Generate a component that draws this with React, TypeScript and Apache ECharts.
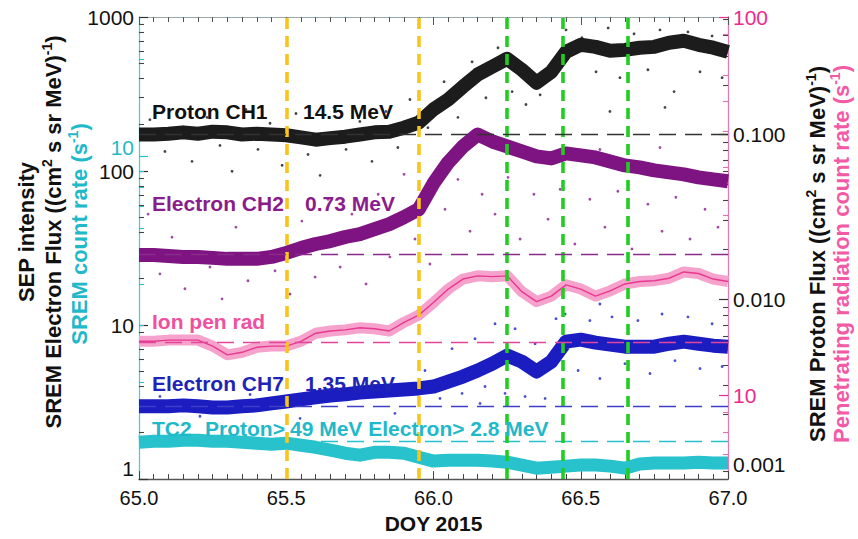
import React, { useEffect, useRef } from "react";
import * as echarts from "echarts";

// ---- time grid (day of year 2015) ----
const doy = [
  65.0, 65.05, 65.1, 65.15, 65.2, 65.25, 65.3, 65.35, 65.4, 65.45, 65.5, 65.55, 65.6, 65.65, 65.7, 65.75,
  65.8, 65.85, 65.9, 65.95, 66.0, 66.05, 66.1, 66.15, 66.2, 66.25, 66.3, 66.35, 66.4, 66.45, 66.5, 66.55,
  66.6, 66.65, 66.7, 66.75, 66.8, 66.85, 66.9, 66.95, 67.0,
];

// ---- series values ----
const protonCH1 = [
  0.1, 0.1, 0.101, 0.103, 0.101, 0.104, 0.103, 0.1, 0.101, 0.1, 0.099, 0.096, 0.093, 0.095, 0.097, 0.1,
  0.103, 0.104, 0.11, 0.118, 0.142, 0.163, 0.195, 0.231, 0.258, 0.288, 0.247, 0.206, 0.24, 0.317, 0.35,
  0.34, 0.322, 0.326, 0.336, 0.34, 0.36, 0.37, 0.35, 0.336, 0.317,
];
const electronCH2 = [
  28.5, 28.5, 28.1, 27.7, 27.7, 27.3, 26.9, 26.9, 26.9, 27.7, 29.4, 31.6, 33.6, 35.1, 37.3, 39.0, 42.0,
  45.2, 50.2, 56.5, 83.2, 113.8, 144.4, 172.6, 155.5, 144.4, 134.1, 124.4, 120.8, 130.1, 126.3, 122.6,
  115.5, 108.8, 105.6, 101.0, 98.0, 95.2, 91.0, 88.3, 85.8,
];
const ionPenRad = [
  13.9, 13.9, 14.0, 14.0, 14.0, 13.5, 12.8, 13.0, 13.4, 13.5, 13.5, 13.9, 14.6, 14.8, 14.9, 15.1, 15.0,
  14.8, 15.6, 16.3, 17.6, 19.1, 20.3, 20.7, 20.6, 20.7, 18.8, 17.7, 18.3, 19.6, 19.1, 18.3, 18.9, 19.7,
  20.0, 20.1, 20.4, 21.2, 21.0, 20.3, 20.0,
];
const electronCH7 = [
  2.97, 2.97, 2.97, 3.01, 2.97, 2.92, 2.92, 2.97, 3.01, 3.1, 3.19, 3.29, 3.39, 3.49, 3.55, 3.65, 3.71,
  3.76, 3.82, 3.88, 3.99, 4.3, 4.63, 5.07, 5.62, 6.34, 5.79, 4.99, 5.79, 7.8, 8.04, 7.69, 7.46, 7.24,
  7.24, 7.24, 7.57, 7.8, 7.57, 7.35, 7.24,
];
const tc2 = [
  1.301, 1.31, 1.31, 1.319, 1.319, 1.31, 1.31, 1.301, 1.292, 1.282, 1.292, 1.273, 1.255, 1.229, 1.203,
  1.186, 1.211, 1.211, 1.203, 1.169, 1.137, 1.144, 1.144, 1.144, 1.137, 1.128, 1.105, 1.081, 1.089,
  1.097, 1.105, 1.105, 1.097, 1.081, 1.113, 1.121, 1.121, 1.121, 1.128, 1.121, 1.121,
];

// ---- individual (scattered) samples ----
const protonDots = [
  [65.037, 0.123], [65.088, 0.0789], [65.132, 0.138], [65.18, 0.0687], [65.231, 0.127], [65.275, 0.0858],
  [65.316, 0.0598], [65.363, 0.142], [65.404, 0.0812], [65.445, 0.117], [65.486, 0.065], [65.533, 0.134],
  [65.574, 0.0757], [65.615, 0.0565], [65.662, 0.146], [65.703, 0.0812], [65.75, 0.12], [65.791, 0.0687],
  [65.839, 0.138], [65.879, 0.0834], [65.92, 0.163], [65.981, 0.11], [66.036, 0.209], [66.083, 0.127],
  [66.131, 0.276], [66.178, 0.167], [66.219, 0.336], [66.267, 0.182], [66.314, 0.152], [66.362, 0.174],
  [66.416, 0.276], [66.45, 0.431], [66.504, 0.386], [66.552, 0.24], [66.593, 0.443], [66.633, 0.221],
  [66.681, 0.408], [66.728, 0.247], [66.769, 0.431], [66.817, 0.182], [66.864, 0.419], [66.905, 0.24],
  [66.946, 0.396], [66.98, 0.221], [66.599, 0.138], [66.786, 0.146],
];
const electronCH2Dots = [
  [65.031, 52.5], [65.071, 21.5], [65.112, 37.2], [65.156, 17.2], [65.2, 56.5], [65.241, 23.8],
  [65.282, 14.8], [65.329, 43.2], [65.37, 19.4], [65.418, 60.9], [65.462, 22.5], [65.513, 15.9],
  [65.553, 47.3], [65.598, 20.5], [65.642, 65.6], [65.683, 23.8], [65.723, 52.5], [65.771, 18.5],
  [65.812, 70.7], [65.852, 27.7], [65.9, 95.2], [65.937, 36.2], [65.988, 24.9], [66.039, 56.5],
  [66.083, 88.3], [66.124, 40.7], [66.165, 70.7], [66.209, 52.5], [66.253, 91.0], [66.294, 36.2],
  [66.341, 70.7], [66.389, 48.7], [66.43, 76.1], [66.48, 33.6], [66.531, 65.6], [66.582, 43.2],
  [66.626, 73.9], [66.674, 31.2], [66.728, 60.9], [66.776, 40.7], [66.823, 67.6], [66.871, 36.2],
  [66.922, 56.5], [66.966, 43.2], [66.565, 138], [66.769, 142],
];
const electronCH7Dots = [
  [65.071, 3.44], [65.207, 2.56], [65.377, 3.54], [65.547, 2.48], [65.716, 3.76], [65.869, 2.67],
  [65.971, 5.07], [66.022, 3.34], [66.063, 7.03], [66.097, 3.6], [66.141, 8.16], [66.175, 3.99],
  [66.209, 10.2], [66.243, 3.6], [66.277, 9.47], [66.311, 3.44], [66.345, 7.57], [66.379, 3.34],
  [66.416, 11.0], [66.447, 11.8], [66.491, 5.07], [66.531, 10.7], [66.565, 4.5], [66.606, 11.3],
  [66.65, 5.62], [66.694, 10.7], [66.735, 4.85], [66.776, 11.8], [66.82, 5.88], [66.864, 11.3],
  [66.905, 5.22], [66.946, 10.2], [66.98, 5.38], [66.158, 3.1], [66.565, 13.7],
];

// ---- pre-event background levels ----
const protonBackground = 0.1;
const electronCH2Background = 28.9;
const ionPenBackground = 13.8;
const electronCH7Background = 2.97;
const tc2Background = 1.31;

// ---- event times ----
const yellowEvents = [65.5, 65.95];
const greenEvents = [66.245, 66.443, 66.661];

// ---- axis ticks ----
const leftTicks = [1, 10, 100, 1000];
const leftMinor = [2, 3, 4, 5, 6, 7, 8, 9, 20, 30, 40, 50, 60, 70, 80, 90, 200, 300, 400, 500, 600, 700, 800, 900];
const cyanTicks = [10];
const cyanMinor = [2, 3, 4, 5, 6, 7, 8, 9, 20];
const rightTicks = [0.001, 0.01, 0.1];
const rightMinor = [0.0009, 0.002, 0.003, 0.004, 0.005, 0.006, 0.007, 0.008, 0.009, 0.02, 0.03, 0.04, 0.05, 0.06, 0.07, 0.08, 0.09, 0.2, 0.3, 0.4, 0.5];
const pinkTicks = [10, 100];
const pinkMinor = [7, 8, 9, 20, 30, 40, 50, 60, 70, 80, 90];

const FONT = '"Liberation Sans", Arial, Helvetica, sans-serif';
const C_BLACK = "#111111";
const C_PURPLE = "#7e1482";
const C_PURPLE_TXT = "#8a1d8c";
const C_PINK_BAND = "#f5a3cd";
const C_PINK = "#e8388f";
const C_PINK_TXT = "#f0509e";
const C_PINK_AXIS = "#ee2a8c";
const C_BLUE = "#1b1dc0";
const C_BLUE_TXT = "#1f24b4";
const C_CYAN = "#27c2cb";
const C_CYAN_TXT = "#1fb9c9";
const C_YELLOW = "#f7c51c";
const C_GREEN = "#22cc22";

function majorAxis(o: any) {
  return {
    type: "log",
    position: o.position,
    min: o.min,
    max: o.max,
    axisLine: { show: !!o.line, lineStyle: { color: o.line, width: 1.3 } },
    axisTick: { show: true, inside: true, length: 9, customValues: o.ticks, lineStyle: { color: o.tickColor, width: 1.2 } },
    axisLabel: {
      show: true,
      customValues: o.ticks,
      margin: 5,
      fontSize: 21,
      fontFamily: FONT,
      color: o.labelColor,
      formatter: o.formatter,
      verticalAlignMinLabel: o.minAlign,
      ...(o.labelExtra || {}),
    },
    splitLine: { show: false },
    minorTick: { show: false },
  };
}
function minorAxis(o: any) {
  return {
    type: "log",
    position: o.position,
    min: o.min,
    max: o.max,
    axisLine: { show: false },
    axisTick: { show: true, inside: true, length: 5, customValues: o.ticks, lineStyle: { color: o.tickColor, width: 1.1 } },
    axisLabel: { show: false },
    splitLine: { show: false },
    minorTick: { show: false },
  };
}

const toXY = (vals: number[]) => doy.map((d, i) => [d, vals[i]]);

function band(name: string, vals: number[], yAxisIndex: number, color: string, width: number, level: number, levelColor: string, extraMark?: any[]) {
  return {
    type: "line",
    name,
    xAxisIndex: 0,
    yAxisIndex,
    data: toXY(vals),
    symbol: "none",
    showSymbol: false,
    silent: true,
    z: 3,
    lineStyle: { color, width, join: "round" },
    markLine: {
      silent: true,
      symbol: ["none", "none"],
      label: { show: false },
      lineStyle: { type: [17, 9], width: 1.4, color: levelColor },
      data: [{ yAxis: level }, ...(extraMark || [])],
      z: 5,
    },
  };
}

function dots(vals: number[][], yAxisIndex: number, color: string) {
  return {
    type: "scatter",
    xAxisIndex: 0,
    yAxisIndex,
    data: vals,
    symbolSize: 2.8,
    silent: true,
    z: 1,
    itemStyle: { color, opacity: 0.85 },
  };
}

function sup(color: string) {
  return {
    t: { fontSize: 22, fontWeight: "bold", fontFamily: FONT, fill: color, lineHeight: 24, verticalAlign: "bottom" },
    s: { fontSize: 14, fontWeight: "bold", fontFamily: FONT, fill: color, lineHeight: 24, verticalAlign: "top" },
  };
}

function label(x: number, y: number, text: string, color: string) {
  return {
    type: "text",
    x,
    y,
    z: 20,
    silent: true,
    style: {
      text,
      fill: color,
      fontSize: 21,
      fontWeight: "bold",
      fontFamily: FONT,
      align: "left",
      verticalAlign: "middle",
      textAlign: "left",
      textVerticalAlign: "middle",
    },
  };
}

function title(x: number, y: number, text: string, color: string) {
  return {
    type: "text",
    x,
    y,
    rotation: Math.PI / 2,
    z: 20,
    silent: true,
    style: {
      text,
      rich: sup(color),
      fill: color,
      fontSize: 22,
      fontWeight: "bold",
      fontFamily: FONT,
      align: "center",
      verticalAlign: "middle",
      textAlign: "center",
      textVerticalAlign: "middle",
    },
  };
}

const vLine = (x: number, color: string) => ({
  xAxis: x,
  lineStyle: { color, width: 3.6, type: [11, 7] },
});

const option: any = {
  animation: false,
  backgroundColor: "#ffffff",
  grid: { left: 139, top: 17, right: 130, bottom: 58, containLabel: false },
  xAxis: [
    {
      type: "value",
      position: "bottom",
      min: 65,
      max: 67,
      interval: 0.5,
      axisLine: { lineStyle: { color: "#555", width: 1.3 } },
      axisTick: { inside: true, length: 8, lineStyle: { color: "#444" } },
      minorTick: { show: true, splitNumber: 10, length: 5, lineStyle: { color: "#444" } },
      axisLabel: { fontSize: 20, fontFamily: FONT, color: C_BLACK, margin: 9, formatter: (v: number) => v.toFixed(1) },
      splitLine: { show: false },
      name: "DOY 2015",
      nameLocation: "middle",
      nameGap: 30,
      nameTextStyle: { fontSize: 21, fontWeight: "bold", fontFamily: FONT, color: C_BLACK },
    },
    {
      type: "value",
      position: "top",
      min: 65,
      max: 67,
      interval: 0.5,
      axisLine: { lineStyle: { color: "#9aa", width: 1.2 } },
      axisTick: { inside: true, length: 8, lineStyle: { color: "#555" } },
      minorTick: { show: true, splitNumber: 10, length: 5, lineStyle: { color: "#555" } },
      axisLabel: { show: false },
      splitLine: { show: false },
    },
  ],
  yAxis: [
    majorAxis({ position: "left", min: 1, max: 1000, line: "#5cc8d0", ticks: leftTicks, tickColor: "#333", labelColor: C_BLACK, minAlign: "bottom", formatter: (v: number) => String(Math.round(v)) }),
    minorAxis({ position: "left", min: 1, max: 1000, ticks: leftMinor, tickColor: "#444" }),
    majorAxis({ position: "left", min: 1, max: 27, line: null, ticks: cyanTicks, tickColor: C_CYAN, labelColor: C_CYAN_TXT, labelExtra: { verticalAlign: "bottom", lineHeight: 17 }, formatter: (v: number) => String(Math.round(v)) }),
    minorAxis({ position: "left", min: 1, max: 27, ticks: cyanMinor, tickColor: C_CYAN }),
    majorAxis({ position: "right", min: 0.000812, max: 0.516, line: "#e27ab8", ticks: rightTicks, tickColor: "#333", labelColor: C_BLACK, formatter: (v: number) => v.toFixed(3) }),
    minorAxis({ position: "right", min: 0.000812, max: 0.516, ticks: rightMinor, tickColor: "#444" }),
    majorAxis({ position: "right", min: 6.01, max: 100, line: null, ticks: pinkTicks, tickColor: C_PINK_AXIS, labelColor: C_PINK_AXIS, formatter: (v: number) => String(Math.round(v)) }),
    minorAxis({ position: "right", min: 6.01, max: 100, ticks: pinkMinor, tickColor: "#ea6fb0" }),
  ],
  series: [
    dots(protonDots, 4, "#222"),
    dots(electronCH2Dots, 0, "#8e2a92"),
    dots(electronCH7Dots, 0, "#2a2ccc"),
    band("TC2", tc2, 2, C_CYAN, 13, tc2Background, C_CYAN, [
      ...yellowEvents.map((x) => vLine(x, C_YELLOW)),
      ...greenEvents.map((x) => vLine(x, C_GREEN)),
    ]),
    band("Electron CH7 1.35 MeV", electronCH7, 0, C_BLUE, 14, electronCH7Background, "#3d3fc8"),
    band("Ion pen rad", ionPenRad, 6, C_PINK_BAND, 11, ionPenBackground, "#e4449a"),
    {
      type: "line",
      name: "Ion pen rad (mean)",
      xAxisIndex: 0,
      yAxisIndex: 6,
      data: toXY(ionPenRad),
      symbol: "none",
      showSymbol: false,
      silent: true,
      z: 4,
      lineStyle: { color: C_PINK, width: 1.4 },
    },
    band("Electron CH2 0.73 MeV", electronCH2, 0, C_PURPLE, 14, electronCH2Background, "#8a2a8c"),
    band("Proton CH1 14.5 MeV", protonCH1, 4, "#1c1c1c", 14, protonBackground, "#333"),
  ],
  graphic: [
    label(152, 111, "Proton CH1", C_BLACK),
    label(303, 111, "14.5 MeV", C_BLACK),
    label(152, 203, "Electron CH2", C_PURPLE_TXT),
    label(305, 203, "0.73 MeV", C_PURPLE_TXT),
    label(152, 321, "Ion pen rad", C_PINK_TXT),
    label(152, 383, "Electron CH7", C_BLUE_TXT),
    label(305, 383, "1.35 MeV", C_BLUE_TXT),
    label(152, 428, "TC2", C_CYAN_TXT),
    label(205, 428, "Proton>", C_CYAN_TXT),
    label(290, 428, "49 MeV Electron> 2.8 MeV", C_CYAN_TXT),
    title(25, 232, "{t|SEP intensity}", C_BLACK),
    title(52, 232, "{t|SREM Electron Flux ((cm}{s|2}{t| s sr MeV)}{s|-1}{t|)}", C_BLACK),
    title(78, 234, "{t|SREM count rate (s}{s|-1}{t|)}", C_CYAN_TXT),
    title(816, 254, "{t|SREM Proton Flux ((cm}{s|2}{t| s sr MeV)}{s|-1}{t|)}", C_BLACK),
    title(840, 254, "{t|Penetrating radiation count rate (s}{s|-1}{t|)}", "#f25aa6"),
  ],
};

export default function App() {
  const ref = useRef<HTMLDivElement>(null);
  useEffect(() => {
    if (!ref.current) return;
    const chart = echarts.init(ref.current, null, { renderer: "svg" });
    chart.setOption(option);
    return () => chart.dispose();
  }, []);
  return (
    <div
      ref={ref}
      style={{ position: "absolute", left: 0, top: 0, width: 858, height: 539, background: "#fff" }}
    />
  );
}
